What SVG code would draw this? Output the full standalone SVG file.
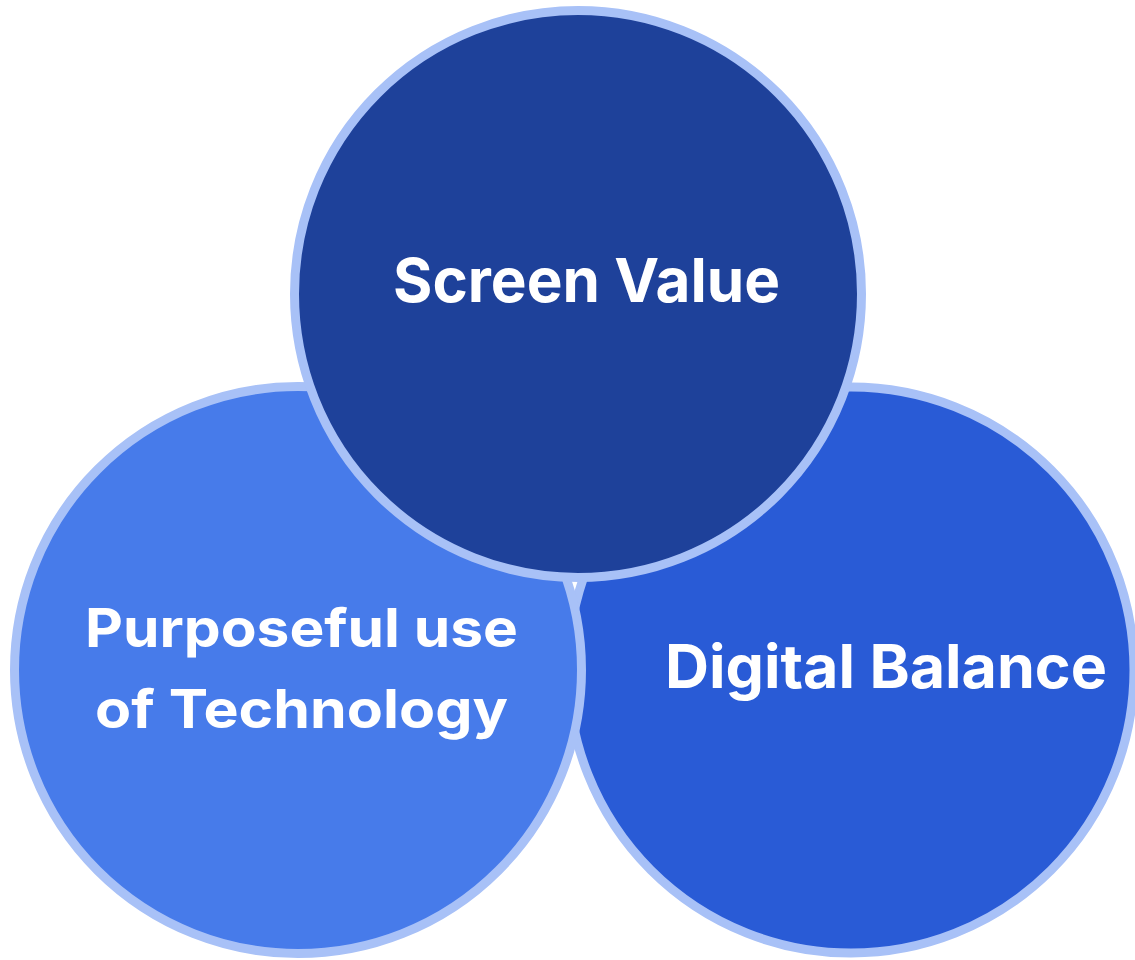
<svg xmlns="http://www.w3.org/2000/svg" width="1135" height="960" viewBox="0 0 1135 960">
  <style>
    .ring { stroke: #A8C1F7; stroke-width: 9; }
    .label { font-family: Inter, "Open Sans", "Liberation Sans", sans-serif; font-weight: 700; fill: #FFFFFF; }
  </style>
  <rect width="1135" height="960" fill="#FFFFFF"/>
  <g id="connectors"/>
  <g id="node-digital-balance">
    <circle class="ring" cx="851" cy="670" r="283" fill="#295BD6"/>
    <text class="label" x="665" y="688" font-size="60" textLength="442" lengthAdjust="spacingAndGlyphs">Digital Balance</text>
  </g>
  <g id="node-purposeful-use">
    <circle class="ring" cx="298" cy="670" r="283.5" fill="#477BEA"/>
    <text class="label" x="85" y="647" font-size="54" textLength="433" lengthAdjust="spacingAndGlyphs">Purposeful use</text>
    <text class="label" x="95" y="728" font-size="54" textLength="413" lengthAdjust="spacingAndGlyphs">of Technology</text>
  </g>
  <g id="node-screen-value">
    <circle class="ring" cx="578" cy="294" r="283.5" fill="#1E419A"/>
    <text class="label" x="393" y="302" font-size="61" textLength="387" lengthAdjust="spacingAndGlyphs">Screen Value</text>
  </g>
</svg>
